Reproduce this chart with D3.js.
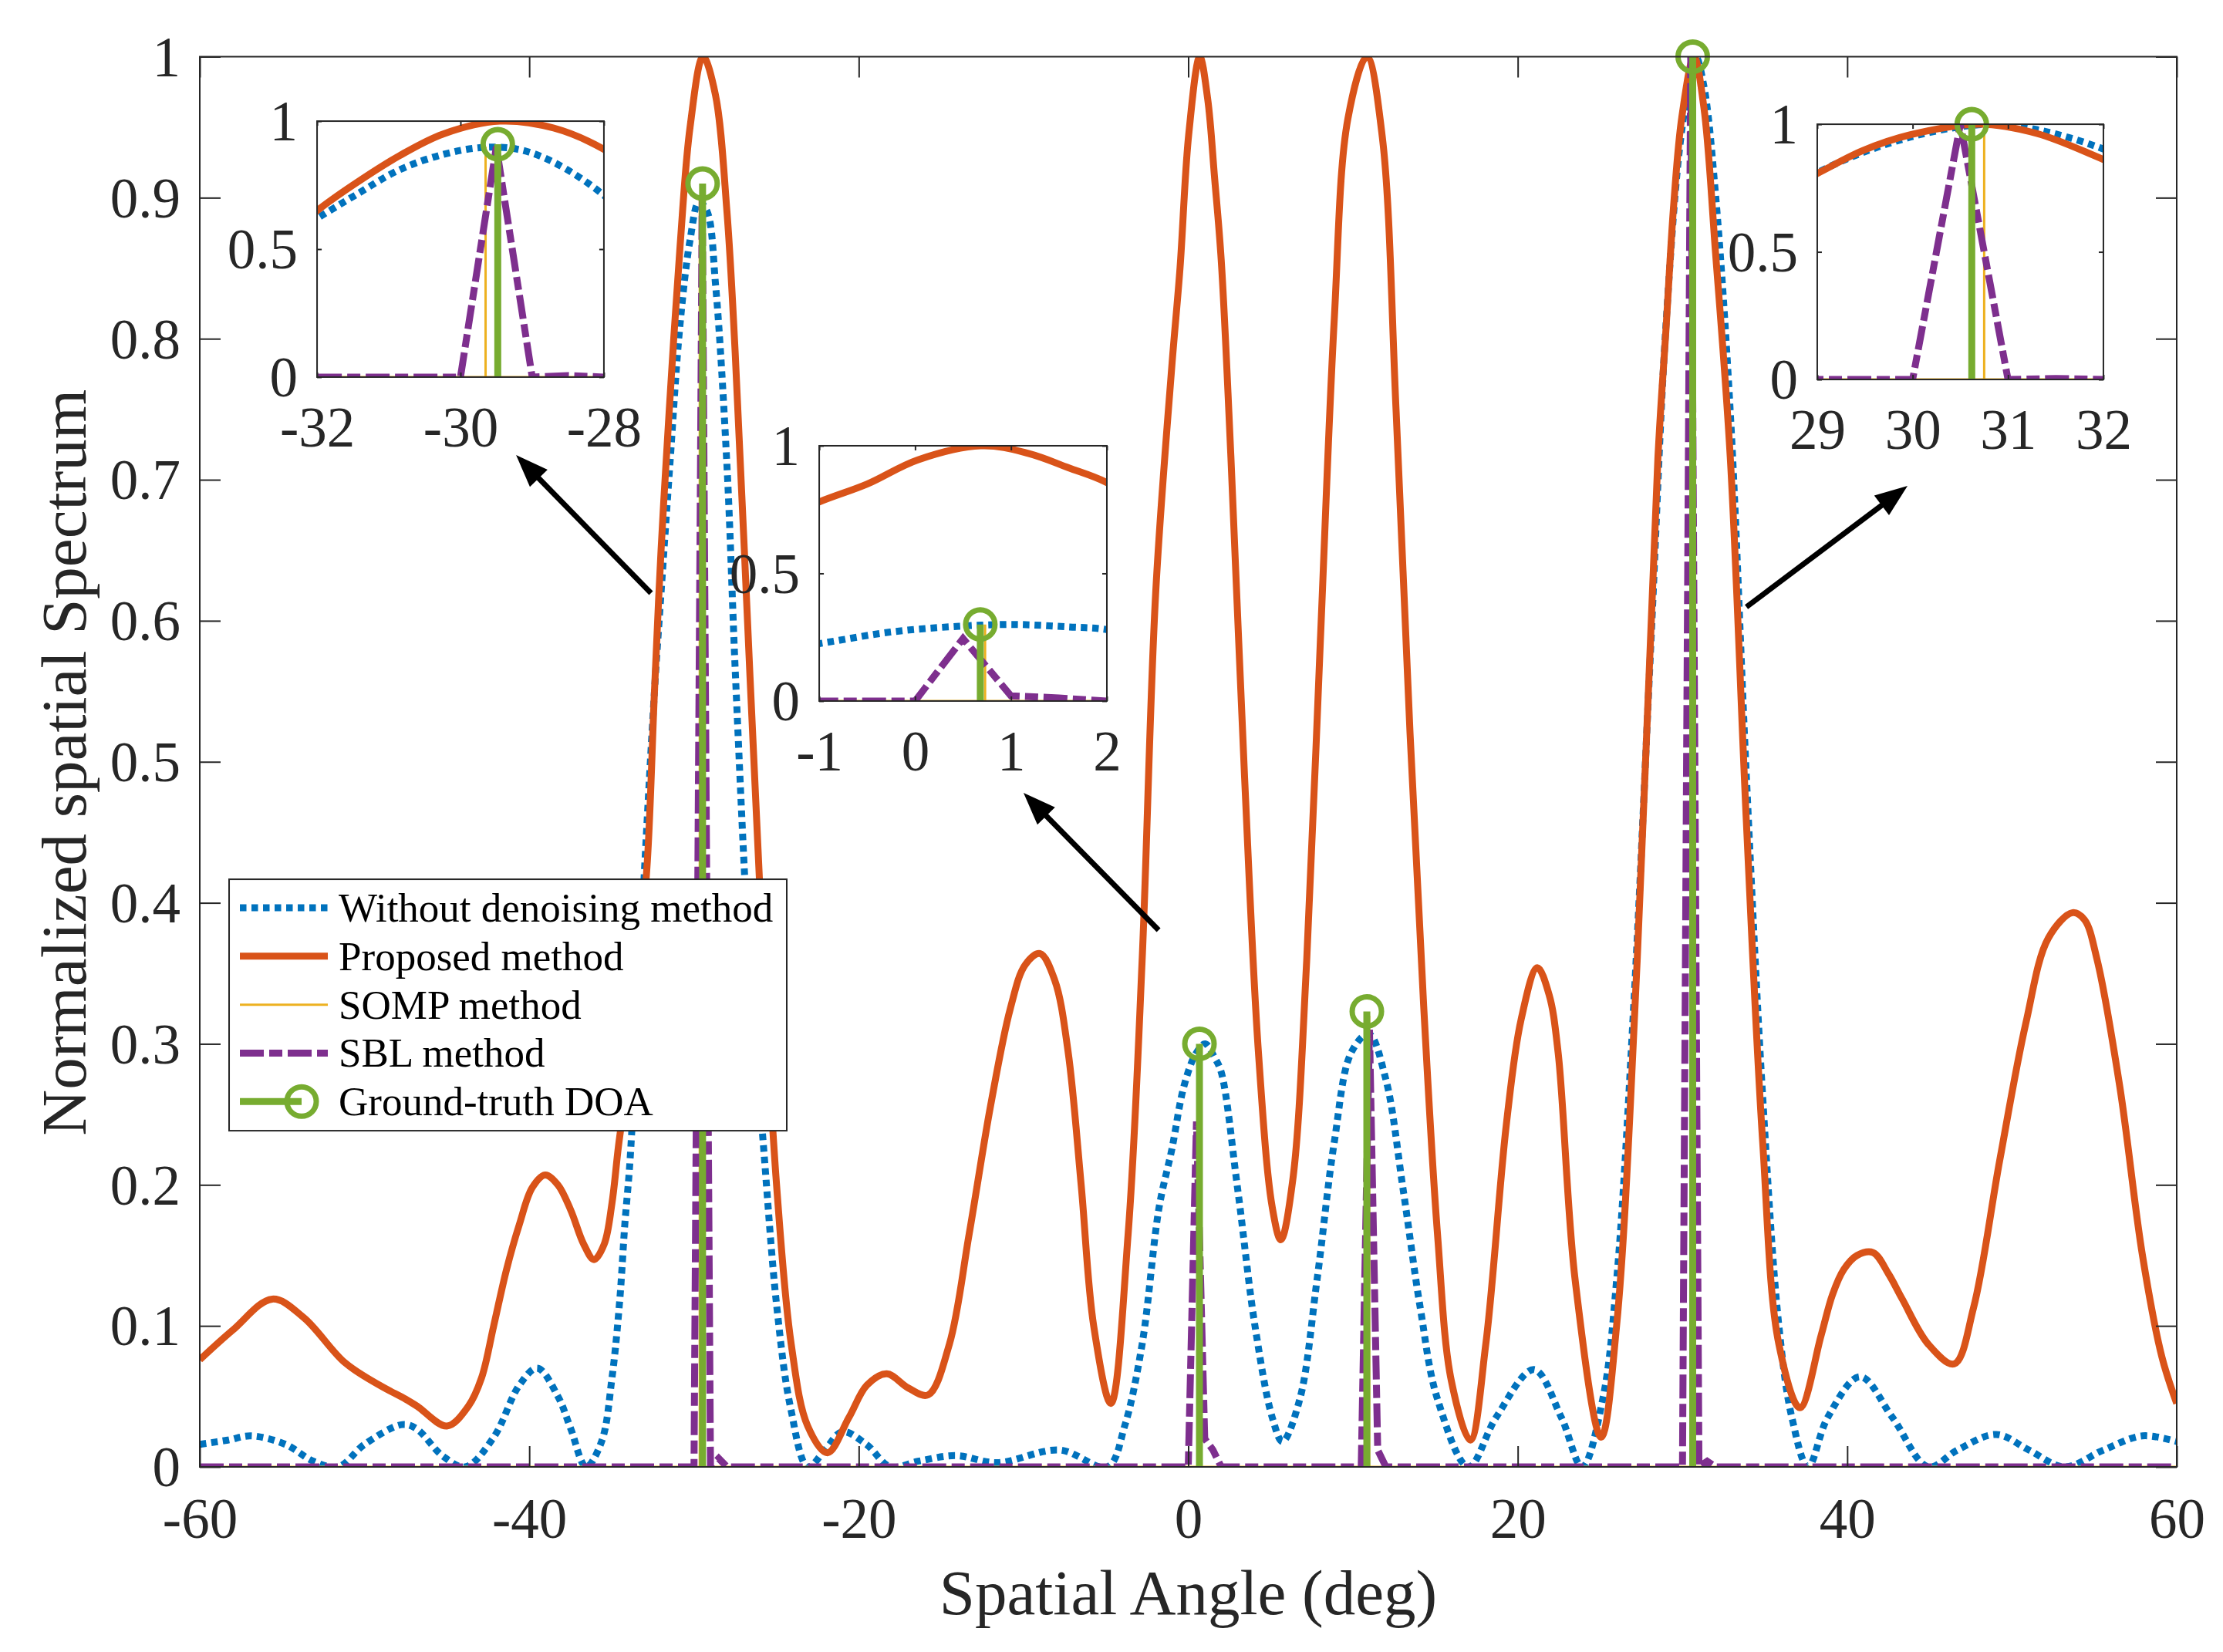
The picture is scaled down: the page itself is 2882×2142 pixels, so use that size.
<!DOCTYPE html>
<html>
<head>
<meta charset="utf-8">
<script src="https://cdn.jsdelivr.net/npm/d3@7"></script>
<style>
  html, body { margin: 0; padding: 0; background: #ffffff; }
  svg { display: block; }
</style>
</head>
<body>
<svg id="chart" width="2882" height="2142"></svg>
<script>
// ---------------- DATA ----------------
const seriesNames = ["Without denoising method", "Proposed method", "SOMP method", "SBL method", "Ground-truth DOA"];

// Proposed method (solid orange)
const angleProposed = [-60,-58,-55.6,-53.7,-51.2,-49.1,-47.5,-46.8,-45,-43.7,-42.9,-42.16,-41.38,-40.6,-39.82,-39.04,-38.26,-37.48,-36.7,-36.07,-35.45,-34.98,-34.59,-34.1,-33.4,-32.83,-32.4,-32,-31.5,-30.85,-30.24,-29.45,-28.7,-28,-27.5,-26.6,-25.8,-24.97,-24.1,-23.1,-21.9,-20.6,-19.5,-18.3,-17,-15.8,-14.5,-13.3,-12,-10.8,-9.9,-9,-8.1,-7.3,-6.5,-5.74,-4.7,-3.65,-2.8,-1.98,-1,-0.5,0.03,0.7,1.18,1.6,2,2.59,3.42,4.26,5.1,5.62,6.35,7.19,8.02,8.86,9.69,10.84,11.78,12.62,13.46,14.29,15.13,15.97,17.12,18.06,19.31,20.2,21.19,21.9,22.45,23.49,25.06,26,27.25,28.51,29,29.48,29.97,30.7,31.3,32,32.9,33.88,34.87,35.85,37.13,38.41,39.1,39.79,40.6,41.57,42.5,43.34,44.92,46.49,47.67,49.25,50.83,52.21,53.68,54.4,55.16,56.54,57.92,59.1,60];
const valueProposed = [0.076,0.097,0.119,0.106,0.074,0.058,0.048,0.043,0.029,0.043,0.063,0.1,0.14,0.172,0.198,0.207,0.2,0.182,0.158,0.147,0.158,0.187,0.227,0.27,0.35,0.43,0.55,0.65,0.75,0.865,0.95,1.0,0.973,0.89,0.79,0.56,0.359,0.197,0.087,0.029,0.010,0.035,0.058,0.066,0.056,0.051,0.087,0.165,0.256,0.325,0.356,0.364,0.345,0.295,0.2,0.1,0.045,0.165,0.359,0.619,0.78,0.85,0.945,1.0,0.97,0.914,0.856,0.716,0.489,0.294,0.184,0.161,0.204,0.359,0.586,0.813,0.956,1.0,0.943,0.748,0.521,0.327,0.165,0.061,0.019,0.087,0.243,0.317,0.354,0.335,0.294,0.132,0.021,0.1,0.359,0.716,0.807,0.897,0.958,1.0,0.964,0.862,0.716,0.457,0.23,0.087,0.042,0.093,0.122,0.14,0.15,0.152,0.137,0.119,0.087,0.073,0.113,0.217,0.314,0.375,0.393,0.388,0.36,0.27,0.15,0.078,0.045];

// Without denoising method (dotted blue)
const angleWithout = [-60,-58.3,-56.9,-54.8,-53.1,-51.6,-50,-47.7,-46.84,-45.28,-43.88,-42.16,-40.6,-39.51,-38.26,-37.48,-36.55,-35.61,-34.98,-34.51,-34.2,-33.88,-33.03,-32.4,-32,-31.47,-30.85,-30.24,-29.7,-29.2,-28.69,-28,-27.48,-26.64,-25.8,-24.97,-24.14,-23.09,-22.05,-21,-19.54,-18.07,-16.4,-14.1,-11.6,-7.8,-4.9,-3.86,-2.8,-1.77,-1,-0.26,0.46,1.03,1.61,2,3,4.05,5.1,5.72,6.77,7.81,8.86,9.9,10.95,11.99,13.04,14.08,15.13,17.01,18.68,20.98,22.65,23.91,25.16,26,27.04,28.09,29,29.97,30.8,31.3,32,32.9,33.88,34.87,35.85,36.64,37.62,38.81,40.78,42.75,44.92,46.69,49.05,51.02,53.19,55.56,57.92,60];
const valueWithout = [0.016,0.019,0.022,0.016,0.004,0,0.016,0.030,0.027,0.008,0,0.021,0.058,0.07,0.05,0.027,0,0.018,0.063,0.118,0.172,0.218,0.418,0.55,0.62,0.71,0.81,0.87,0.897,0.89,0.838,0.71,0.56,0.359,0.23,0.113,0.042,0,0.012,0.025,0.016,0,0.004,0.008,0.003,0.012,0,0.029,0.087,0.184,0.225,0.27,0.293,0.30,0.29,0.28,0.197,0.1,0.035,0.018,0.048,0.132,0.23,0.294,0.307,0.275,0.197,0.113,0.048,0,0.035,0.069,0.035,0,0.048,0.132,0.327,0.586,0.81,0.949,1.0,0.979,0.903,0.748,0.489,0.262,0.1,0.035,0,0.035,0.064,0.035,0,0.012,0.023,0.012,0,0.012,0.022,0.018];

// SBL method (dash-dot purple, 0.5 deg grid)
const angleSBL = [-60,-30,-29.5,-29,-28.5,-28,0,0.5,1,1.5,2,10.5,11,11.5,12,30,30.5,31,31.5,32,60];
const valueSBL = [0,0,0.9,0,0.006,0,0,0.245,0.02,0.012,0,0,0.31,0.012,0,0,1.0,0,0.004,0,0];

// SOMP method (thin yellow, line spectrum)
const angleSOMP = [-29.65, 0.73, 10.98, 30.75];
const valueSOMP = [0.9, 0.3, 0.32, 1.0];

// Ground-truth DOA (green stems)
const angleDOA = [-29.48, 0.68, 10.84, 30.62];
const valueDOA = [0.91, 0.30, 0.323, 1.0];

// Ticks
const xTicks = [-60, -40, -20, 0, 20, 40, 60];
const yTicks = [0, 0.1, 0.2, 0.3, 0.4, 0.5, 0.6, 0.7, 0.8, 0.9, 1];
const insetXDomains = [[-32, -28], [-1, 2], [29, 32]];
const insetXTicks = [[-32, -30, -28], [-1, 0, 1, 2], [29, 30, 31, 32]];
const insetYTicks = [0, 0.5, 1];

// ---------------- LAYOUT / STYLE ----------------
const FONT = "'Liberation Serif', 'Times New Roman', Times, serif";
const AX = "#262626";
const C = { without: "#0072BD", proposed: "#D95319", somp: "#EDB120", sbl: "#7E2F8E", doa: "#77AC30" };
const LW = 9;
const DOT = "8.5,6.5";
const DASHDOT = "31,7,17,7";

const plot = { left: 259, right: 2822, top: 73.5, bottom: 1902 };
// inset boxes and annotations given in main-axes data coordinates
const insetBoxes = [
  { x0: -52.88, x1: -35.47, y0: 0.7728, y1: 0.9543 },
  { x0: -22.40, x1: -4.94,  y0: 0.5431, y1: 0.7241 },
  { x0: 38.18,  x1: 55.55,  y0: 0.7711, y1: 0.9521 }
];
const arrows = [
  { from: [-32.61, 0.6196], to: [-40.80, 0.7175] },
  { from: [-1.80, 0.3806],  to: [-10.00, 0.4780] },
  { from: [33.88, 0.6098],  to: [43.66, 0.6956] }
];
const legendBox = { x0: -58.22, x1: -24.37, y0: 0.2384, y1: 0.4167 };

// ---------------- BUILD ----------------
const svg = d3.select("#chart");
const defs = svg.append("defs");
svg.append("rect").attr("width", 2882).attr("height", 2142).attr("fill", "#fff");

const x = d3.scaleLinear().domain([-60, 60]).range([plot.left, plot.right]);
const y = d3.scaleLinear().domain([0, 1]).range([plot.bottom, plot.top]);

const zip = (a, b) => a.map((v, i) => [v, b[i]]);
const ptsProposed = zip(angleProposed, valueProposed);
const ptsWithout = zip(angleWithout, valueWithout);
const ptsSBL = zip(angleSBL, valueSBL);
const ptsSOMP = [[-60, 0]];
angleSOMP.forEach((a, i) => { ptsSOMP.push([a, 0], [a, valueSOMP[i]], [a, 0]); });
ptsSOMP.push([60, 0]);
const ptsDOA = zip(angleDOA, valueDOA);

let clipCount = 0;
function drawSeries(g, xs, ys, x0, y0, w, h) {
  const id = "clip" + (clipCount++);
  defs.append("clipPath").attr("id", id).append("rect")
    .attr("x", x0).attr("y", y0).attr("width", w).attr("height", h);
  const lg = g.append("g").attr("clip-path", `url(#${id})`);
  const smooth = d3.line().x(d => xs(d[0])).y(d => ys(d[1])).curve(d3.curveCatmullRom.alpha(0.5));
  const lin = d3.line().x(d => xs(d[0])).y(d => ys(d[1]));
  lg.append("path").datum(ptsWithout).attr("d", smooth)
    .attr("fill", "none").attr("stroke", C.without).attr("stroke-width", LW)
    .attr("stroke-dasharray", DOT);
  lg.append("path").datum(ptsProposed).attr("d", smooth)
    .attr("fill", "none").attr("stroke", C.proposed).attr("stroke-width", LW)
    .attr("stroke-linejoin", "round");
  lg.append("path").datum(ptsSOMP).attr("d", lin)
    .attr("fill", "none").attr("stroke", C.somp).attr("stroke-width", 3);
  lg.append("path").datum(ptsSBL).attr("d", lin)
    .attr("fill", "none").attr("stroke", C.sbl).attr("stroke-width", LW)
    .attr("stroke-dasharray", DASHDOT);
  lg.selectAll("line.stem").data(ptsDOA).join("line")
    .attr("class", "stem")
    .attr("x1", d => xs(d[0])).attr("x2", d => xs(d[0]))
    .attr("y1", ys(0)).attr("y2", d => ys(d[1]))
    .attr("stroke", C.doa).attr("stroke-width", LW);
  // markers are not clipped (MATLAB behaviour) but only drawn inside the x-range
  const [d0, d1] = xs.domain();
  g.selectAll("circle.doa").data(ptsDOA.filter(d => d[0] >= d0 && d[0] <= d1)).join("circle")
    .attr("class", "doa")
    .attr("cx", d => xs(d[0])).attr("cy", d => ys(d[1])).attr("r", 19)
    .attr("fill", "none").attr("stroke", C.doa).attr("stroke-width", 7);
}

// ---- main axes ----
const main = svg.append("g");
drawSeries(main, x, y, plot.left, plot.top, plot.right - plot.left, plot.bottom - plot.top);

function styleAxis(g) {
  g.select(".domain").remove();
  g.attr("color", AX).attr("font-family", FONT).attr("font-size", 73);
  g.selectAll(".tick line").attr("stroke-width", 2);
}
const fmt = d => String(+(+d).toFixed(2));

const gxB = svg.append("g").attr("transform", `translate(0,${plot.bottom})`)
  .call(d3.axisBottom(x).tickValues(xTicks).tickSizeInner(-27).tickSizeOuter(0).tickFormat(fmt));
styleAxis(gxB);
gxB.selectAll(".tick text").attr("y", 92).attr("dy", null).attr("fill", AX);

const gxT = svg.append("g").attr("transform", `translate(0,${plot.top})`)
  .call(d3.axisTop(x).tickValues(xTicks).tickSizeInner(-27).tickSizeOuter(0).tickFormat(() => ""));
styleAxis(gxT);

const gyL = svg.append("g").attr("transform", `translate(${plot.left},0)`)
  .call(d3.axisLeft(y).tickValues(yTicks).tickSizeInner(-27).tickSizeOuter(0).tickFormat(fmt));
styleAxis(gyL);
gyL.selectAll(".tick text").attr("x", -25).attr("dy", "0.34em").attr("fill", AX);

const gyR = svg.append("g").attr("transform", `translate(${plot.right},0)`)
  .call(d3.axisRight(y).tickValues(yTicks).tickSizeInner(-27).tickSizeOuter(0).tickFormat(() => ""));
styleAxis(gyR);

svg.append("rect").attr("x", plot.left).attr("y", plot.top)
  .attr("width", plot.right - plot.left).attr("height", plot.bottom - plot.top)
  .attr("fill", "none").attr("stroke", AX).attr("stroke-width", 2);

// axis titles
svg.append("text").attr("x", (plot.left + plot.right) / 2).attr("y", 2093)
  .attr("text-anchor", "middle").attr("font-family", FONT).attr("font-size", 83)
  .attr("fill", AX).text("Spatial Angle (deg)");
svg.append("text").attr("transform", `translate(111,${(plot.top + plot.bottom) / 2 + 1}) rotate(-90)`)
  .attr("text-anchor", "middle").attr("font-family", FONT).attr("font-size", 83)
  .attr("fill", AX).text("Normalized spatial Spectrum");

// ---- legend ----
const lgX0 = x(legendBox.x0), lgX1 = x(legendBox.x1), lgY0 = y(legendBox.y1), lgY1 = y(legendBox.y0);
const leg = svg.append("g");
leg.append("rect").attr("x", lgX0).attr("y", lgY0).attr("width", lgX1 - lgX0).attr("height", lgY1 - lgY0)
  .attr("fill", "#fff").attr("stroke", AX).attr("stroke-width", 2);
const legendStyles = [
  { stroke: C.without, w: LW, dash: DOT },
  { stroke: C.proposed, w: LW, dash: null },
  { stroke: C.somp, w: 3, dash: null },
  { stroke: C.sbl, w: LW, dash: DASHDOT },
  { stroke: C.doa, w: LW, dash: null, marker: true }
];
seriesNames.forEach((name, i) => {
  const cy = lgY0 + 37 + i * 62.8;
  const st = legendStyles[i];
  const sx0 = lgX0 + 14, sx1 = lgX0 + 128;
  leg.append("line").attr("x1", sx0).attr("x2", st.marker ? lgX0 + 94 : sx1)
    .attr("y1", cy).attr("y2", cy).attr("stroke", st.stroke).attr("stroke-width", st.w)
    .attr("stroke-dasharray", st.dash);
  if (st.marker) {
    leg.append("circle").attr("cx", lgX0 + 94).attr("cy", cy).attr("r", 19)
      .attr("fill", "none").attr("stroke", C.doa).attr("stroke-width", 7);
  }
  leg.append("text").attr("x", lgX0 + 142).attr("y", cy + 18)
    .attr("font-family", FONT).attr("font-size", 53).attr("fill", "#000").text(name);
});

// ---- insets ----
insetBoxes.forEach((b, k) => {
  const ix0 = x(b.x0), ix1 = x(b.x1), iy0 = y(b.y1), iy1 = y(b.y0);
  const xs = d3.scaleLinear().domain(insetXDomains[k]).range([ix0, ix1]);
  const ys = d3.scaleLinear().domain([0, 1]).range([iy1, iy0]);
  const g = svg.append("g");
  g.append("rect").attr("x", ix0).attr("y", iy0).attr("width", ix1 - ix0).attr("height", iy1 - iy0)
    .attr("fill", "#fff");
  drawSeries(g, xs, ys, ix0, iy0, ix1 - ix0, iy1 - iy0);

  const ab = g.append("g").attr("transform", `translate(0,${iy1})`)
    .call(d3.axisBottom(xs).tickValues(insetXTicks[k]).tickSizeInner(-6).tickSizeOuter(0).tickFormat(fmt));
  styleAxis(ab);
  ab.selectAll(".tick text").attr("y", 90).attr("dy", null).attr("fill", AX);
  const at = g.append("g").attr("transform", `translate(0,${iy0})`)
    .call(d3.axisTop(xs).tickValues(insetXTicks[k]).tickSizeInner(-6).tickSizeOuter(0).tickFormat(() => ""));
  styleAxis(at);
  const al = g.append("g").attr("transform", `translate(${ix0},0)`)
    .call(d3.axisLeft(ys).tickValues(insetYTicks).tickSizeInner(-6).tickSizeOuter(0).tickFormat(fmt));
  styleAxis(al);
  al.selectAll(".tick text").attr("x", -25).attr("dy", "0.34em").attr("fill", AX);
  const ar = g.append("g").attr("transform", `translate(${ix1},0)`)
    .call(d3.axisRight(ys).tickValues(insetYTicks).tickSizeInner(-6).tickSizeOuter(0).tickFormat(() => ""));
  styleAxis(ar);
  g.append("rect").attr("x", ix0).attr("y", iy0).attr("width", ix1 - ix0).attr("height", iy1 - iy0)
    .attr("fill", "none").attr("stroke", AX).attr("stroke-width", 2);
});

// ---- arrows ----
arrows.forEach(a => {
  const x1 = x(a.from[0]), y1 = y(a.from[1]), x2 = x(a.to[0]), y2 = y(a.to[1]);
  const ang = Math.atan2(y2 - y1, x2 - x1);
  const L = 42, HW = 16;
  const bx = x2 - L * Math.cos(ang), by = y2 - L * Math.sin(ang);
  svg.append("line").attr("x1", x1).attr("y1", y1).attr("x2", bx + 4 * Math.cos(ang)).attr("y2", by + 4 * Math.sin(ang))
    .attr("stroke", "#000").attr("stroke-width", 7);
  const px = -Math.sin(ang), py = Math.cos(ang);
  svg.append("path")
    .attr("d", `M${x2},${y2}L${bx + HW * px},${by + HW * py}L${bx - HW * px},${by - HW * py}Z`)
    .attr("fill", "#000");
});
</script>
</body>
</html>
